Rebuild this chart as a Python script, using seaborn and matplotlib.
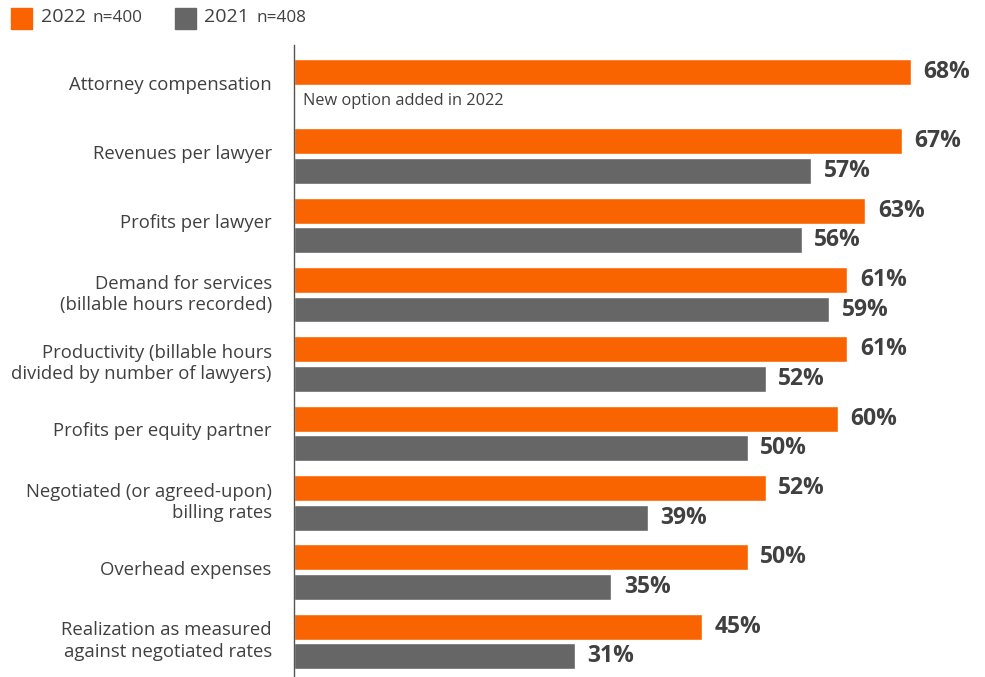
import matplotlib
matplotlib.use("Agg")
import matplotlib.pyplot as plt
import matplotlib.transforms as mtransforms
import seaborn as sns
import pandas as pd
import numpy as np
from matplotlib.patches import Rectangle

categories = [
    "Attorney compensation",
    "Revenues per lawyer",
    "Profits per lawyer",
    "Demand for services\n(billable hours recorded)",
    "Productivity (billable hours\ndivided by number of lawyers)",
    "Profits per equity partner",
    "Negotiated (or agreed-upon)\nbilling rates",
    "Overhead expenses",
    "Realization as measured\nagainst negotiated rates",
]
values_2022 = [68, 67, 63, 61, 61, 60, 52, 50, 45]
values_2021 = [np.nan, 57, 56, 59, 52, 50, 39, 35, 31]
series = ["2022", "2021"]
sample_sizes = ["n=400", "n=408"]

ORANGE = "#FA6400"
GRAY = "#666666"
TEXT = "#404040"

df = pd.DataFrame({
    "metric": categories * 2,
    "year": ["2022"] * len(categories) + ["2021"] * len(categories),
    "pct": values_2022 + values_2021,
})

sns.set_theme(style="white")
plt.rcParams["font.family"] = ["Open Sans", "DejaVu Sans"]

W, H = 985, 677
fig = plt.figure(figsize=(W / 100, H / 100), dpi=100)
ax_left, ax_top, ax_bottom = 294, 45, 677
ax = fig.add_axes([ax_left / W, 1 - ax_bottom / H, (W - ax_left) / W, (ax_bottom - ax_top) / H])

sns.barplot(
    data=df, y="metric", x="pct", hue="year", order=categories, hue_order=series,
    palette=[ORANGE, GRAY], orient="h", width=0.85, gap=0.12, ax=ax,
    legend=False, errorbar=None, saturation=1,
)

ax.set_xlim(0, (W - ax_left) / 9.07)
ax.set_ylim(8.512, -0.602)
ax.set_xlabel("")
ax.set_ylabel("")
ax.set_xticks([])
for s in ["top", "right", "bottom"]:
    ax.spines[s].set_visible(False)
ax.spines["left"].set_color("#555555")
ax.spines["left"].set_linewidth(1.0)
ax.tick_params(axis="y", length=0, pad=16)
lift = mtransforms.ScaledTranslation(0, 4 / 100, fig.dpi_scale_trans)
for lab in ax.get_yticklabels():
    lab.set_fontsize(13.3)
    lab.set_color(TEXT)
    lab.set_multialignment("right")
    lab.set_linespacing(1.22)
    lab.set_transform(lab.get_transform() + lift)

# value labels at the end of each bar
for cont in ax.containers:
    labels = ["" if np.isnan(v) else f"{v:.0f}%" for v in cont.datavalues]
    ax.bar_label(cont, labels=labels, padding=9, fontsize=16.5, fontweight="bold", color=TEXT)

ax.text(1.0, 0.21, "New option added in 2022", fontsize=11.8, color=TEXT, va="center", ha="left")

# legend
def px_text(x, y, s, **kw):
    fig.text(x / W, 1 - y / H, s, **kw)

for x0, col, yr, n, tx, nx in [(11, ORANGE, series[0], sample_sizes[0], 41, 92),
                               (175, GRAY, series[1], sample_sizes[1], 204, 257)]:
    fig.patches.append(Rectangle((x0 / W, 1 - 29 / H), 21 / W, 21 / H,
                                 transform=fig.transFigure, color=col))
    px_text(tx, 17, yr, fontsize=14, color=TEXT, va="center")
    px_text(nx, 18, n, fontsize=12.3, color=TEXT, va="center")

fig.savefig("out.png", dpi=100)
